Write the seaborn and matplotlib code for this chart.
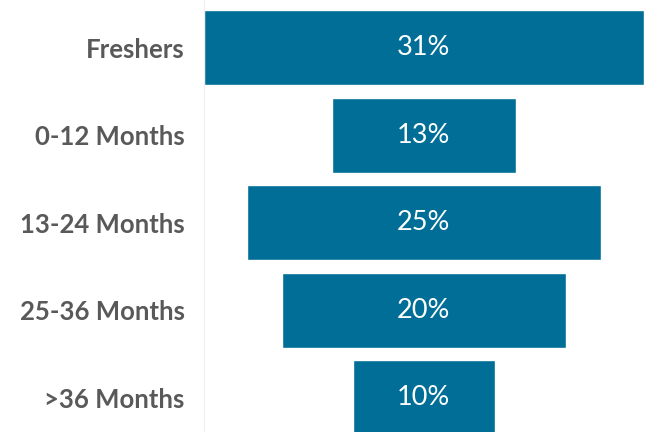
import matplotlib
matplotlib.use("Agg")
import matplotlib.pyplot as plt
import seaborn as sns

sns.set_style("white")
plt.rcParams['font.family'] = ['Lato', 'DejaVu Sans']

## Data ##
stages = ["Freshers", "0-12 Months", "13-24 Months", "25-36 Months", ">36 Months"]
shares = [31, 13, 25, 20, 10]
labels = ["31%", "13%", "25%", "20%", "10%"]

bar_color = "#006E96"

fig = plt.figure(figsize=(6.48, 4.32), dpi=100)
ax = fig.add_axes([204 / 648, 0, 444 / 648, 1])

sns.barplot(x=shares, y=stages, orient="h", color=bar_color,
            saturation=1, width=0.857, ax=ax)

# centre every bar to make the funnel
for patch, v, txt in zip(ax.patches, shares, labels):
    patch.set_x(-v / 2)
    cy = patch.get_y() + patch.get_height() / 2
    ax.text(0, cy, txt, ha="center", va="center", color="white",
            fontsize=19.5)

ax.set_xlim(-15.5, 15.8)
ax.set_ylim(4.394, -0.543)
ax.set_xticks([])
ax.tick_params(axis="y", length=0, pad=14, labelsize=18.5, labelcolor="#595959")
for lab in ax.get_yticklabels():
    lab.set_fontweight("bold")
ax.set_xlabel("")
ax.set_ylabel("")
for s in ["top", "right", "bottom"]:
    ax.spines[s].set_visible(False)
ax.spines["left"].set_color("#EEEEEE")
ax.spines["left"].set_linewidth(0.8)

fig.savefig("out.png", dpi=100)
